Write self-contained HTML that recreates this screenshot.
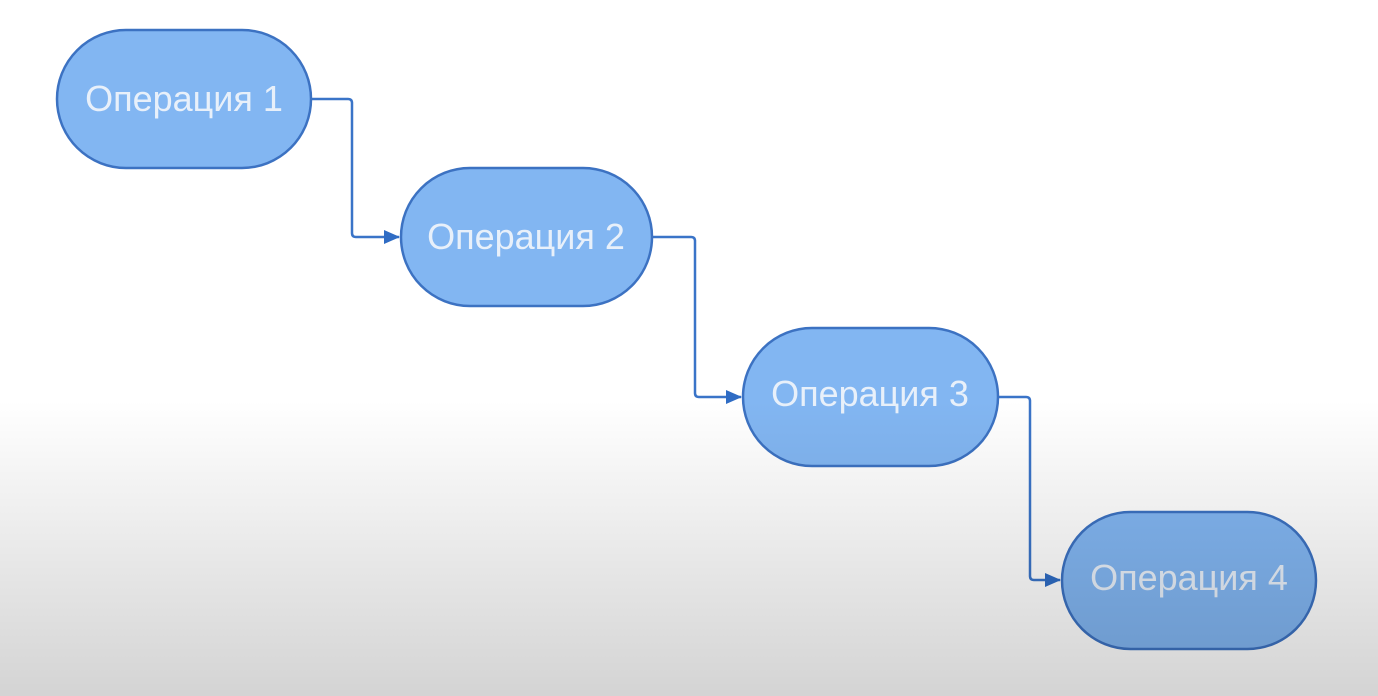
<!DOCTYPE html>
<html><head><meta charset="utf-8"><style>
html,body{margin:0;padding:0;width:1378px;height:696px;overflow:hidden;background:#fff}
svg{display:block}
text{font-family:"Liberation Sans",sans-serif;font-size:36px;fill:#e8f0fa}
</style></head><body>
<svg width="1378" height="696" viewBox="0 0 1378 696">
<defs>
<linearGradient id="sh" gradientUnits="userSpaceOnUse" x1="0" y1="400" x2="0" y2="696">
<stop offset="0" stop-color="#000" stop-opacity="0"/>
<stop offset="1" stop-color="#000" stop-opacity="0.17"/>
</linearGradient>
<marker id="ar" markerWidth="16" markerHeight="14" refX="15" refY="7" orient="auto" markerUnits="userSpaceOnUse" viewBox="0 0 16 14">
<path d="M0,0 L16,7 L0,14 z" fill="#2f6cc4"/>
</marker>
</defs>
<rect width="1378" height="696" fill="#fff"/>
<g fill="none" stroke="#3a74c8" stroke-width="2.5">
<path d="M311,99 H348 Q352,99 352,103 V233 Q352,237 356,237 H399" marker-end="url(#ar)" />
<path d="M652,237 H691 Q695,237 695,241 V393 Q695,397 699,397 H741" marker-end="url(#ar)"/>
<path d="M998,397 H1026 Q1030,397 1030,401 V576 Q1030,580 1034,580 H1060" marker-end="url(#ar)"/>
</g>
<g fill="#82b6f2" stroke="#3c72c2" stroke-width="2.5">
<rect x="57" y="30" width="254" height="138" rx="69"/>
<rect x="401" y="168" width="251" height="138" rx="69"/>
<rect x="743" y="328" width="255" height="138" rx="69"/>
<rect x="1062" y="512" width="254" height="137" rx="68.5"/>
</g>
<text x="184" y="111" text-anchor="middle">Операция 1</text>
<text x="526" y="249" text-anchor="middle">Операция 2</text>
<text x="870" y="406" text-anchor="middle">Операция 3</text>
<text x="1189" y="590" text-anchor="middle">Операция 4</text>
<rect x="0" y="400" width="1378" height="296" fill="url(#sh)"/>
</svg>
</body></html>
